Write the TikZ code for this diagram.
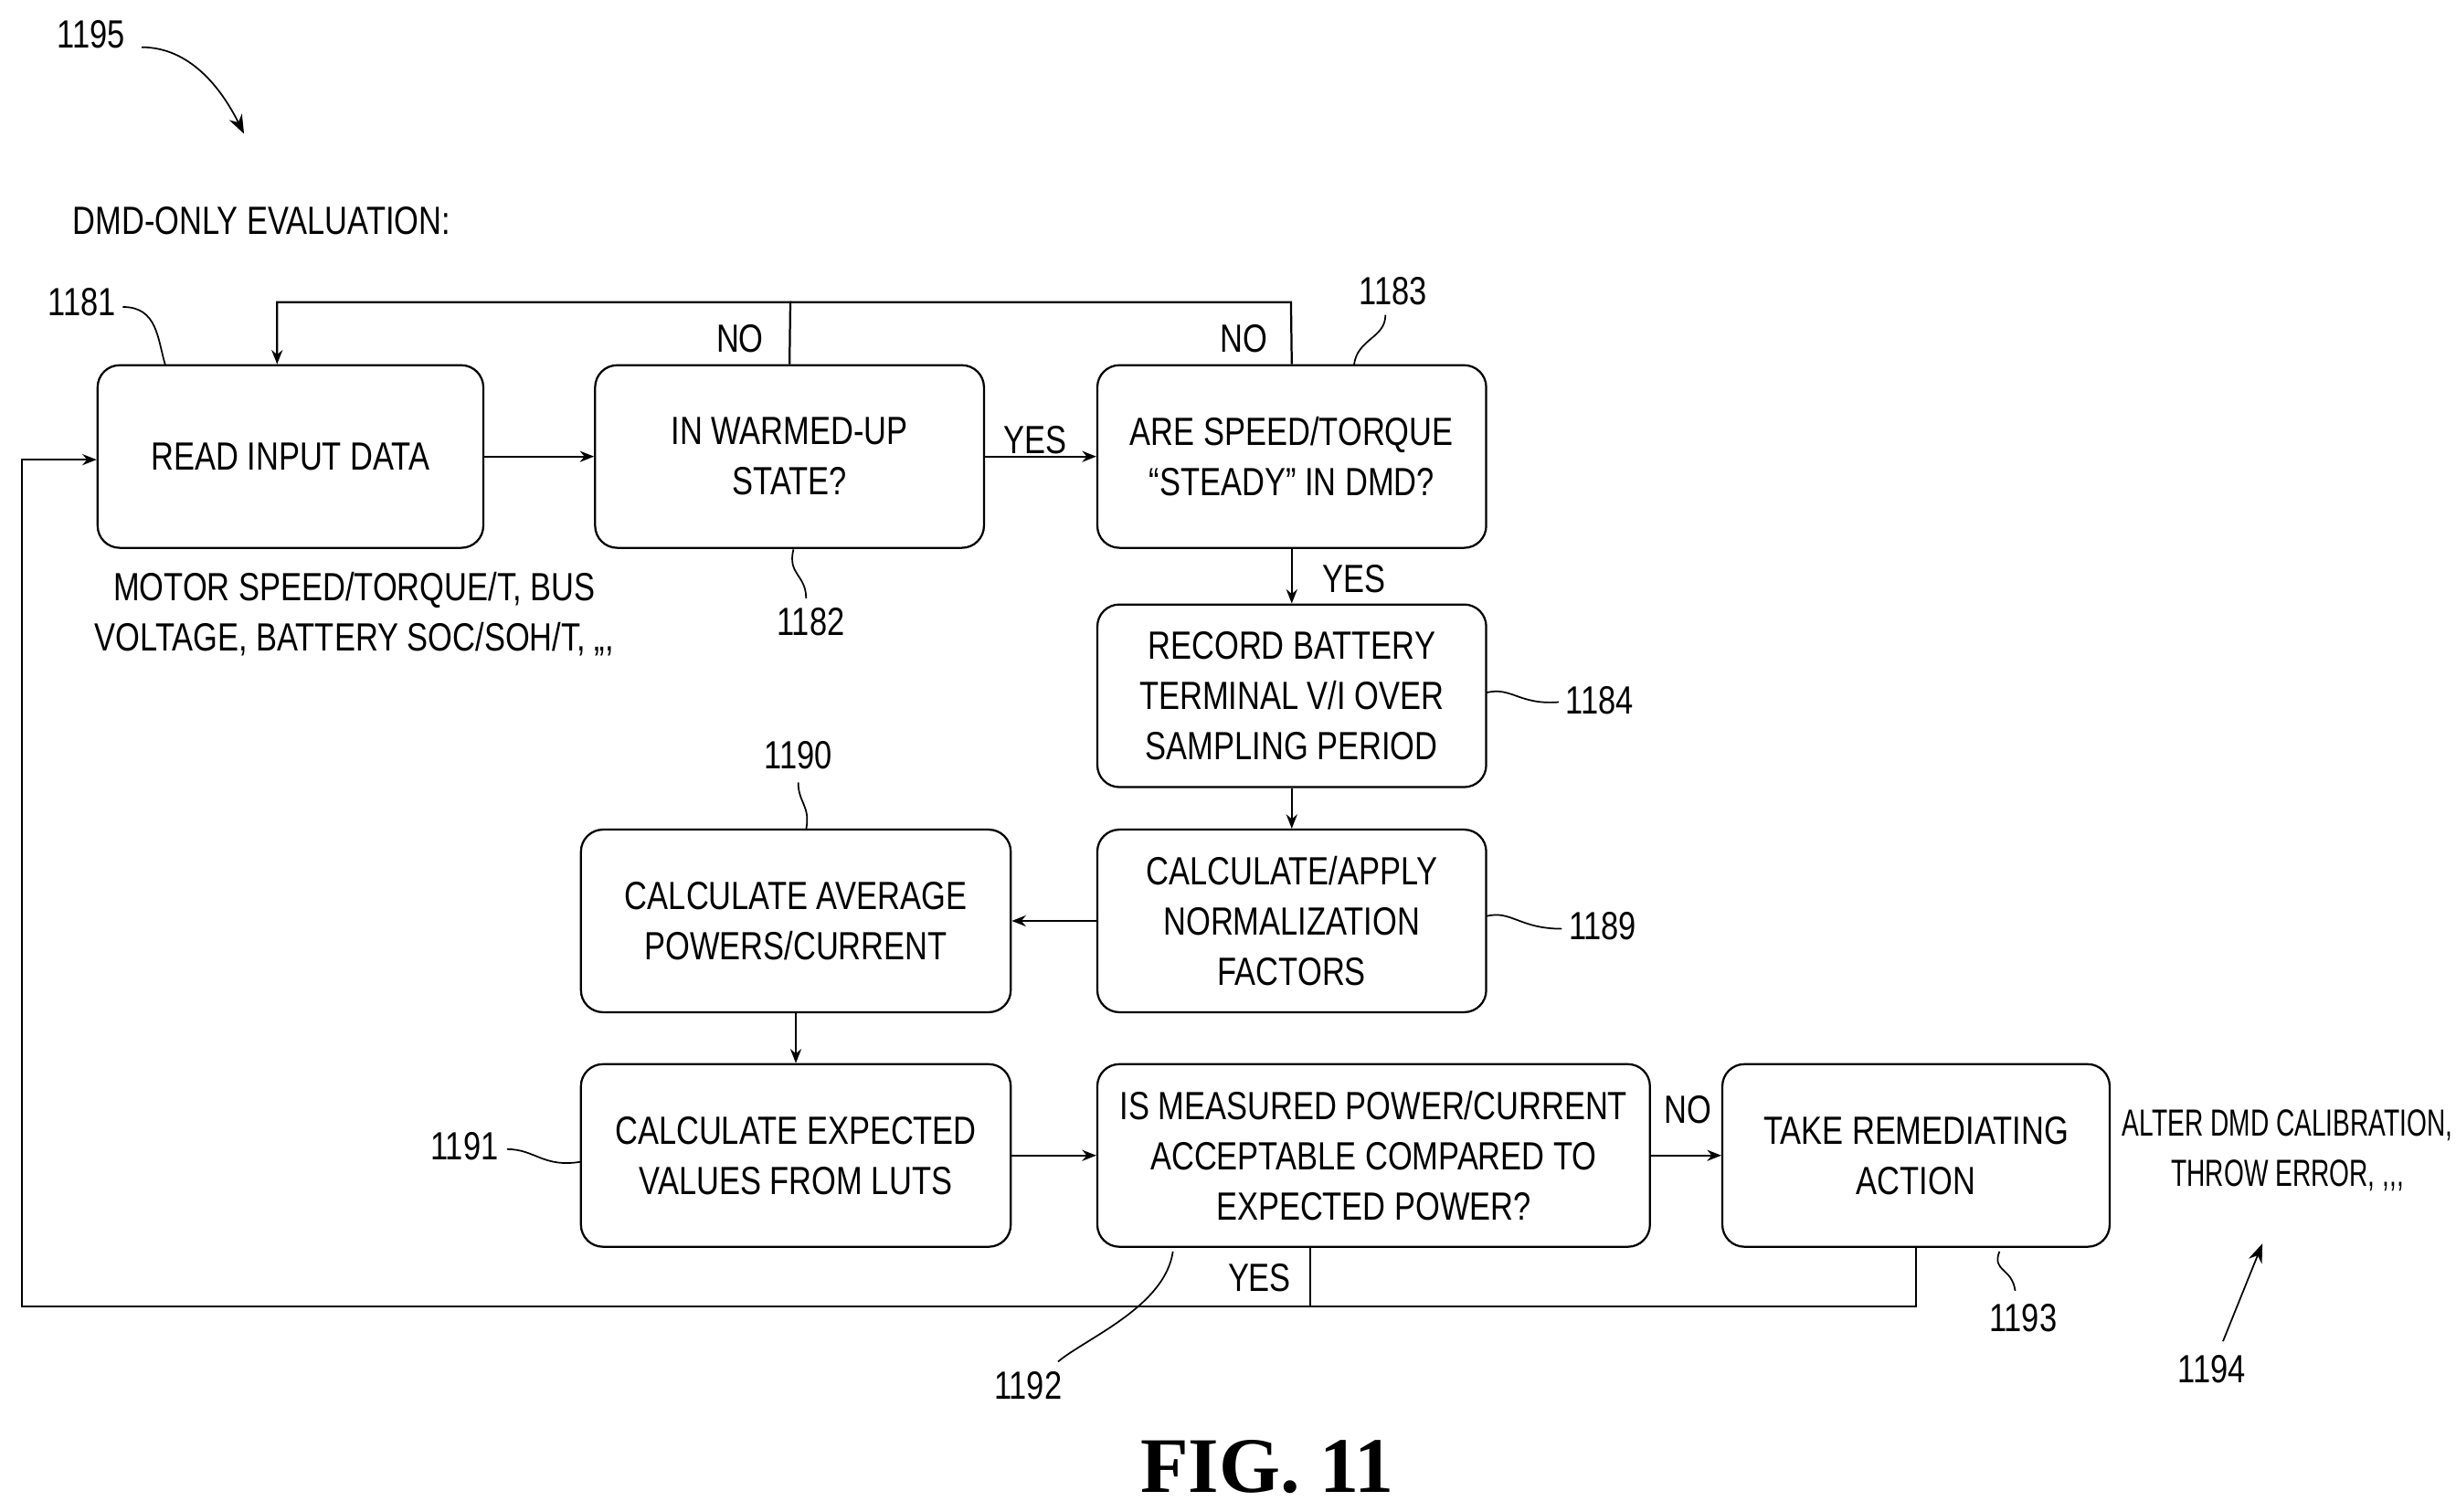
\documentclass[tikz,border=0pt]{standalone}
\usepackage{fontspec}
\setmainfont{Liberation Sans}[FakeStretch=0.8]
\newfontfamily\narrowfont{Liberation Sans}[FakeStretch=0.68]
\newfontfamily\figfont{Liberation Serif}
\usetikzlibrary{arrows.meta}
\begin{document}
\begin{tikzpicture}[x=1pt,y=-1pt,
  box/.style={draw,line width=1.3pt,rounded corners=14pt,align=center,font=\fontsize{25}{32}\selectfont,inner sep=0pt},
  lbl/.style={font=\fontsize{25}{32}\selectfont,align=center,inner sep=1pt},
  ln/.style={line width=1.3pt},
  arr/.style={line width=1.3pt,-{Stealth[length=9pt,width=7pt]}},
  sq/.style={line width=1pt}]
\useasboundingbox (0,0) rectangle (1560,960);
\node[box,minimum width=245pt,minimum height=116pt] (read) at (184.5,290) {READ INPUT DATA};
\node[box,minimum width=247pt,minimum height=116pt] (warm) at (501.5,290) {IN WARMED-UP\\STATE?};
\node[box,minimum width=247pt,minimum height=116pt] (steady) at (820.5,290) {ARE SPEED/TORQUE\\``STEADY'' IN DMD?};
\node[box,minimum width=247pt,minimum height=116pt] (rec) at (820.5,442) {RECORD BATTERY\\TERMINAL V/I OVER\\SAMPLING PERIOD};
\node[box,minimum width=247pt,minimum height=116pt] (norm) at (820.5,585) {CALCULATE/APPLY\\NORMALIZATION\\FACTORS};
\node[box,minimum width=273pt,minimum height=116pt] (avg) at (505.5,585) {CALCULATE AVERAGE\\POWERS/CURRENT};
\node[box,minimum width=273pt,minimum height=116pt] (exp) at (505.5,734) {CALCULATE EXPECTED\\VALUES FROM LUTS};
\node[box,minimum width=351pt,minimum height=116pt] (meas) at (872.5,734) {IS MEASURED POWER/CURRENT\\ACCEPTABLE COMPARED TO\\EXPECTED POWER?};
\node[box,minimum width=246pt,minimum height=116pt] (rem) at (1217,734) {TAKE REMEDIATING\\ACTION};

\coordinate (top) at (176,192);
\coordinate (bl) at (14,830);
\draw[arr] (read) -- (warm);
\draw[arr] (warm) -- node[lbl,above,pos=0.45]{YES} (steady);
\draw[arr] (warm.north) -- (502,192) -| (read.north -| top);
\draw[ln] (steady.north) -- (820,192) -- (502,192);
\node[lbl] at (470,215) {NO};
\node[lbl] at (790,215) {NO};
\draw[arr] (steady) -- (rec);
\node[lbl] at (860,368) {YES};
\draw[arr] (rec) -- (norm);
\draw[arr] (norm) -- (avg);
\draw[arr] (avg) -- (exp);
\draw[arr] (exp) -- (meas);
\draw[arr] (meas) -- (rem);
\node[lbl] at (1072,705) {NO};
\draw[ln] (meas.south -| 832,0) -- (832,830);
\draw[arr] (rem.south) -- (1217,830) -- (bl) -- (14,292) -- (read.west |- 0,292);
\node[lbl] at (800,812) {YES};

\node[lbl] (n1195) at (58,22) {1195};
\draw[sq,-{Stealth[length=12pt,width=9pt]}] (90,30) .. controls (120,30) and (140,55) .. (155,85);
\node[lbl,anchor=west] at (45,140) {DMD-ONLY EVALUATION:};
\node[lbl] (n1181) at (52,192) {1181};
\draw[sq] (78,195) .. controls (100,195) and (100,215) .. (105,232);
\node[lbl] (n1182) at (515,395) {1182};
\draw[sq] (512,380) .. controls (512,365) and (500,365) .. (504,349);
\node[lbl] (n1183) at (885,185) {1183};
\draw[sq] (880,200) .. controls (880,215) and (862,215) .. (860,232);
\node[lbl] (n1184) at (1016,445) {1184};
\draw[sq] (944,440) .. controls (960,436) and (965,448) .. (990,446);
\node[lbl] (n1189) at (1018,588) {1189};
\draw[sq] (944,582) .. controls (960,578) and (965,590) .. (992,590);
\node[lbl] (n1190) at (507,480) {1190};
\draw[sq] (507,497) .. controls (507,510) and (515,512) .. (512,527);
\node[lbl] (n1191) at (295,728) {1191};
\draw[sq] (322,730) .. controls (340,730) and (345,742) .. (369,738);
\node[lbl] (n1192) at (653,880) {1192};
\draw[sq] (672,865) .. controls (690,850) and (740,830) .. (745,795);
\node[lbl] (n1193) at (1285,837) {1193};
\draw[sq] (1280,820) .. controls (1278,805) and (1265,808) .. (1270,795);
\node[lbl] (n1194) at (1405,870) {1194};
\draw[sq,-{Stealth[length=12pt,width=9pt]}] (1412,852) -- (1437,790);
\node[lbl,font=\narrowfont\fontsize{24}{32}\selectfont] at (1453,731) {ALTER DMD CALIBRATION,\\THROW ERROR, ,,,};
\node[lbl] at (225,390) {MOTOR SPEED/TORQUE/T, BUS\\VOLTAGE, BATTERY SOC/SOH/T, ,,,};
\node[font=\figfont\bfseries\fontsize{50}{56}\selectfont] at (805,932) {FIG. 11};
\end{tikzpicture}
\end{document}
